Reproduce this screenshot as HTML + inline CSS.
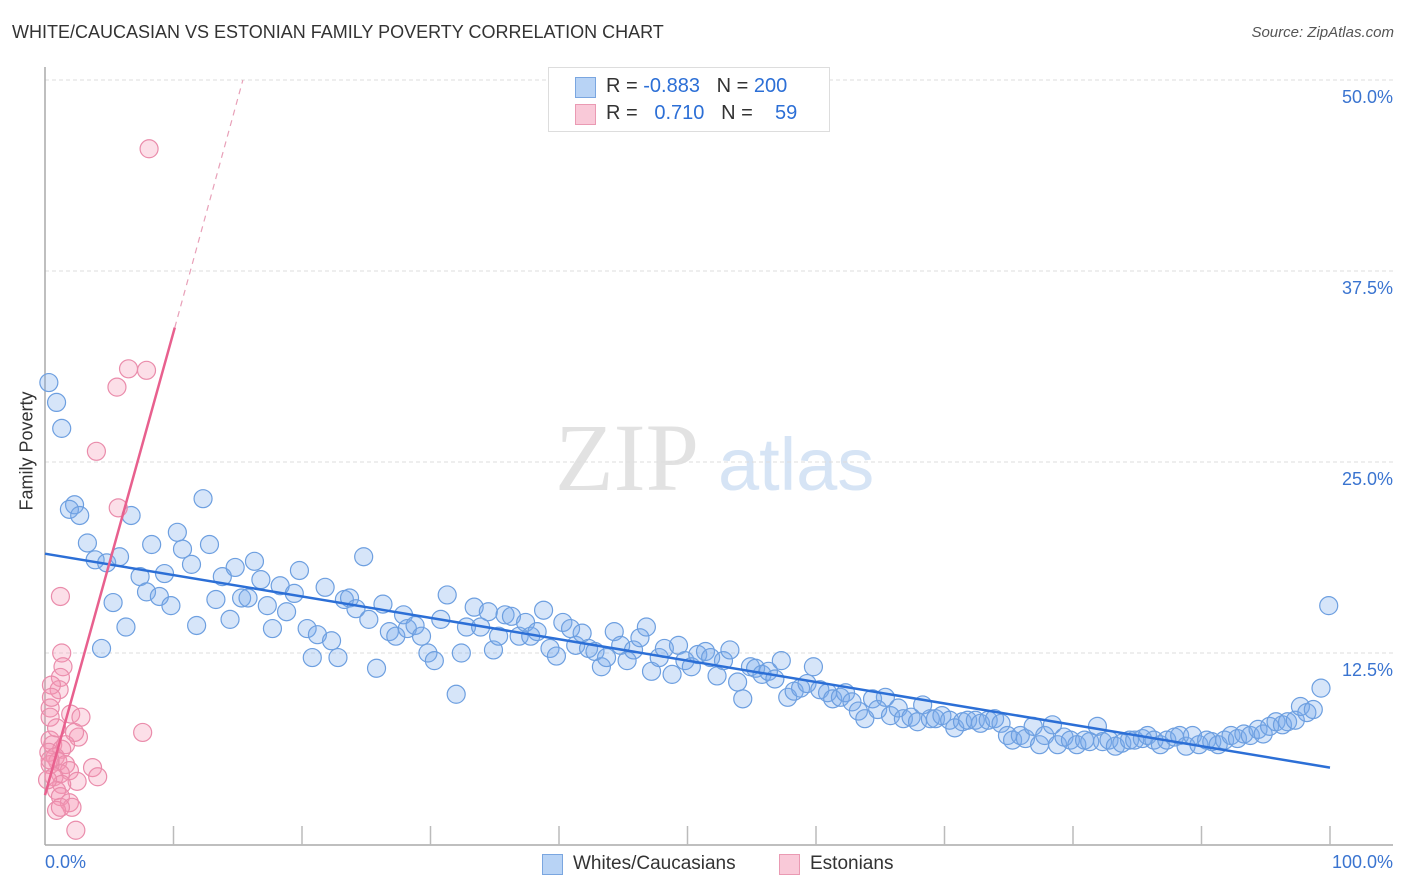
<!DOCTYPE html>
<html><head><meta charset="utf-8"><style>
body{margin:0;background:#fff;font-family:"Liberation Sans",sans-serif;}
#wrap{position:relative;width:1406px;height:892px;overflow:hidden;}
.t{position:absolute;white-space:nowrap;}
</style></head><body>
<div id="wrap">
<div class="t" style="left:12px;top:22px;font-size:18px;color:#333;">WHITE/CAUCASIAN VS ESTONIAN FAMILY POVERTY CORRELATION CHART</div>
<div class="t" style="right:12px;top:24px;font-size:15px;color:#555;font-style:italic;">Source: ZipAtlas.com</div>
<svg id="svg" width="1406" height="892" style="position:absolute;left:0;top:0"></svg>
</div>
<script>
const yTicks=[12.5,25,37.5,50];
const yTickLabels=["12.5%","25.0%","37.5%","50.0%"];
const xTicks=[0,10,20,30,40,50,60,70,80,90,100];
const blueX=[0.3,0.9,1.3,2.3,1.9,2.7,3.3,3.9,4.8,5.8,6.7,5.3,6.3,4.4,7.4,7.9,8.3,8.9,9.3,9.8,10.3,10.7,11.4,11.8,12.3,12.8,13.3,13.8,14.4,14.8,15.3,15.8,16.3,16.8,17.3,17.7,18.3,18.8,19.4,19.8,20.4,20.8,21.2,21.8,22.3,22.8,23.3,23.7,24.2,24.8,25.2,25.8,26.3,26.8,27.3,27.9,28.2,28.8,29.3,29.8,30.3,30.8,31.3,32.0,32.4,32.8,33.4,33.9,34.5,34.9,35.3,35.8,36.3,36.9,37.4,37.8,38.3,38.8,39.3,39.8,40.3,40.9,41.3,41.8,42.3,42.8,43.3,43.7,44.3,44.8,45.3,45.8,46.3,46.8,47.2,47.8,48.2,48.8,49.3,49.8,50.3,50.8,51.4,51.8,52.3,52.8,53.3,53.9,54.3,54.9,55.3,55.8,56.3,56.8,57.3,57.8,58.3,58.8,59.3,59.8,60.3,60.9,61.3,61.9,62.3,62.8,63.3,63.8,64.4,64.8,65.4,65.8,66.4,66.8,67.4,67.9,68.3,68.9,69.3,69.8,70.4,70.8,71.4,71.8,72.4,72.8,73.4,73.9,74.4,74.9,75.3,75.9,76.3,76.9,77.4,77.8,78.4,78.8,79.3,79.8,80.3,80.9,81.3,81.9,82.3,82.8,83.3,83.8,84.4,84.8,85.4,85.8,86.3,86.8,87.3,87.9,88.3,88.8,89.3,89.8,90.4,90.8,91.3,91.8,92.3,92.8,93.3,93.8,94.4,94.8,95.3,95.8,96.3,96.7,97.3,97.7,98.2,98.7,99.3,99.9];
const blueY=[30.2,28.9,27.2,22.2,21.9,21.5,19.7,18.6,18.4,18.8,21.5,15.8,14.2,12.8,17.5,16.5,19.6,16.2,17.7,15.6,20.4,19.3,18.3,14.3,22.6,19.6,16.0,17.5,14.7,18.1,16.1,16.1,18.5,17.3,15.6,14.1,16.9,15.2,16.4,17.9,14.1,12.2,13.7,16.8,13.3,12.2,16.0,16.1,15.4,18.8,14.7,11.5,15.7,13.9,13.6,15.0,14.1,14.3,13.6,12.5,12.0,14.7,16.3,9.8,12.5,14.2,15.5,14.2,15.2,12.7,13.6,15.0,14.9,13.6,14.5,13.6,13.9,15.3,12.8,12.3,14.5,14.1,13.0,13.8,12.8,12.6,11.6,12.2,13.9,13.0,12.0,12.7,13.5,14.2,11.3,12.2,12.8,11.1,13.0,12.0,11.6,12.4,12.6,12.2,11.0,12.0,12.7,10.6,9.5,11.6,11.5,11.1,11.3,10.8,12.0,9.6,10.0,10.2,10.5,11.6,10.1,9.9,9.5,9.6,9.9,9.3,8.7,8.2,9.5,8.8,9.6,8.4,8.9,8.2,8.3,8.0,9.1,8.2,8.2,8.4,8.1,7.6,8.0,8.1,8.1,7.9,8.1,8.2,7.9,7.1,6.8,7.1,6.9,7.7,6.5,7.1,7.8,6.5,7.0,6.8,6.5,6.8,6.7,7.7,6.7,6.8,6.4,6.6,6.8,6.8,6.9,7.1,6.8,6.5,6.8,7.0,7.1,6.4,7.1,6.5,6.8,6.7,6.5,6.8,7.1,6.9,7.2,7.1,7.5,7.2,7.7,8.0,7.8,8.0,8.1,9.0,8.6,8.8,10.2,15.6];
const pinkX=[8.1,6.5,7.9,5.6,4.0,5.7,1.2,1.3,1.4,1.2,1.1,0.5,0.4,0.4,2.0,2.8,2.6,2.3,0.4,0.6,1.6,1.3,0.3,0.8,1.0,1.6,0.4,1.9,1.2,0.7,3.7,4.1,2.5,1.3,0.9,1.2,1.9,2.1,0.9,1.2,2.4,7.6,0.4,0.2,0.9,0.5];
const pinkY=[45.5,31.1,31.0,29.9,25.7,22.0,16.2,12.5,11.6,10.9,10.1,10.4,8.9,8.3,8.5,8.3,7.0,7.3,6.8,6.5,6.5,6.2,6.0,5.7,5.4,5.2,5.2,4.8,4.6,4.4,5.0,4.4,4.1,3.9,3.5,3.1,2.7,2.4,2.2,2.4,0.9,7.3,5.5,4.2,7.6,9.6];
const blueTrend=[[0,19.0],[100,5.0]];
const pinkTrend=[[0,3.2],[10.1,33.8]];
const pinkTrendExt=[[10.1,33.8],[15.4,50]];

const X0=45,X1=1330,Y0=844,PY=15.28;
const sx=v=>X0+(X1-X0)*v/100, sy=v=>Y0-v*PY;
const svg=document.getElementById('svg');
const NS='http://www.w3.org/2000/svg';
function mk(tag,attrs,parent){const e=document.createElementNS(NS,tag);for(const k in attrs)e.setAttribute(k,attrs[k]);(parent||svg).appendChild(e);return e;}
// watermark
let w1=mk('text',{x:555,y:490,'font-size':96,'font-family':'Liberation Serif, serif',fill:'#e2e2e2'});w1.textContent='ZIP';

let w2=mk('text',{x:718,y:490,'font-size':74,'font-family':'Liberation Sans, sans-serif',fill:'#d6e4f5'});w2.textContent='atlas';

// gridlines
yTicks.forEach((v,i)=>{
 const g=mk('line',{x1:X0,x2:1393,y1:sy(v),y2:sy(v),stroke:'#ddd','stroke-dasharray':'4,3'});
 
 const t=mk('text',{x:1393,y:sy(v)+23,'text-anchor':'end','font-size':18,fill:'#3a74d0','font-family':'Liberation Sans, sans-serif'});
 t.textContent=yTickLabels[i];
 
});
// axes
let ax=mk('line',{x1:X0,x2:1393,y1:845,y2:845,stroke:'#aaa','stroke-width':1.5});

let ay=mk('line',{x1:X0,x2:X0,y1:67,y2:845,stroke:'#aaa','stroke-width':1.5});

xTicks.forEach(v=>{if(v===0)return;const t=mk('line',{x1:sx(v),x2:sx(v),y1:826,y2:845,stroke:'#bbb','stroke-width':1.5});
 });
// points
function pts(xs,ys,fill,stroke,name){xs.forEach((x,i)=>{const c=mk('circle',{cx:sx(x),cy:sy(ys[i]),r:9,fill:fill,stroke:stroke,'stroke-width':1.2});
 });}
pts(blueX,blueY,'rgba(120,170,235,0.3)','#6d9fe0','white-point');
pts(pinkX,pinkY,'rgba(245,150,180,0.3)','#ea8cab','estonian-point');
// trends
let bl=mk('line',{x1:sx(blueTrend[0][0]),y1:sy(blueTrend[0][1]),x2:sx(blueTrend[1][0]),y2:sy(blueTrend[1][1]),stroke:'#2c6fd6','stroke-width':2.5});

let pl=mk('line',{x1:sx(pinkTrend[0][0]),y1:sy(pinkTrend[0][1]),x2:sx(pinkTrend[1][0]),y2:sy(pinkTrend[1][1]),stroke:'#e8608e','stroke-width':2.5});

let pd=mk('line',{x1:sx(pinkTrendExt[0][0]),y1:sy(pinkTrendExt[0][1]),x2:sx(pinkTrendExt[1][0]),y2:sy(pinkTrendExt[1][1]),stroke:'#e8a0b8','stroke-width':1.2,'stroke-dasharray':'6,5'});

</script>
<div class="t" style="left:-28px;top:445px;font-size:18px;color:#333;transform:rotate(-90deg);width:110px;text-align:center;">Family Poverty</div>
<div class="t" style="left:45px;top:852px;font-size:18px;color:#3a74d0;">0.0%</div>
<div class="t" style="right:13px;top:852px;font-size:18px;color:#3a74d0;">100.0%</div>
<div style="position:absolute;left:548px;top:67px;width:280px;height:63px;border:1px solid #ddd;background:#fff;font-size:20px;">
 <div style="position:absolute;left:26px;top:9px;width:19px;height:19px;background:#b8d3f5;border:1px solid #7aa6e0"></div>
 <div class="t" style="left:57px;top:7px;color:#333">R = <span style="color:#2c6fd6">-0.883</span>&nbsp;&nbsp;&nbsp;N = <span style="color:#2c6fd6">200</span></div>
 <div style="position:absolute;left:26px;top:36px;width:19px;height:19px;background:#f9c9d8;border:1px solid #ea9ab3"></div>
 <div class="t" style="left:57px;top:34px;color:#333">R = &nbsp;&nbsp;<span style="color:#2c6fd6">0.710</span>&nbsp;&nbsp;&nbsp;N = &nbsp;&nbsp;&nbsp;<span style="color:#2c6fd6">59</span></div>
</div>
<div style="position:absolute;left:542px;top:854px;width:19px;height:19px;background:#b8d3f5;border:1px solid #7aa6e0"></div>
<div class="t" style="left:573px;top:853px;font-size:19px;color:#333">Whites/Caucasians</div>
<div style="position:absolute;left:779px;top:854px;width:19px;height:19px;background:#f9c9d8;border:1px solid #ea9ab3"></div>
<div class="t" style="left:810px;top:853px;font-size:19px;color:#333">Estonians</div>
</body></html>
